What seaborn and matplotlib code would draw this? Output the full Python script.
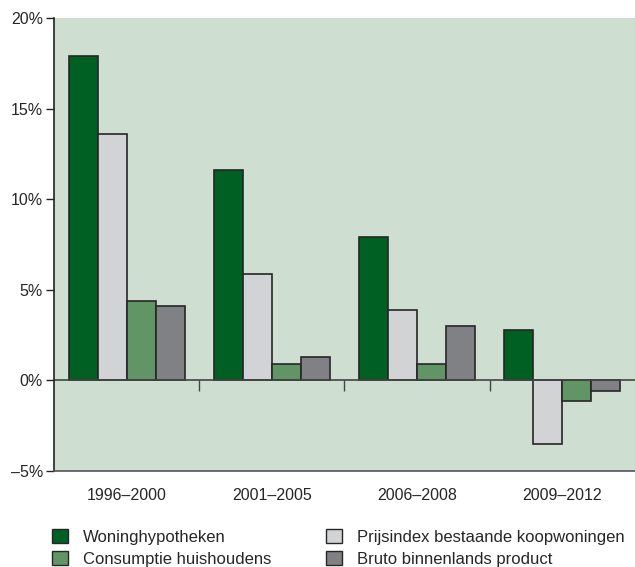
import seaborn as sns
import matplotlib.pyplot as plt
import pandas as pd
from matplotlib.patches import Patch
from matplotlib.ticker import FuncFormatter

# Data
periods = ["1996–2000", "2001–2005", "2006–2008", "2009–2012"]
series = ["Woninghypotheken", "Prijsindex bestaande koopwoningen",
          "Consumptie huishoudens", "Bruto binnenlands product"]
woninghypotheken = [17.9, 11.6, 7.9, 2.8]
prijsindex = [13.6, 5.9, 3.9, -3.5]
consumptie = [4.4, 0.9, 0.9, -1.15]
bbp = [4.1, 1.3, 3.0, -0.6]

colors = {
    "Woninghypotheken": "#006024",
    "Prijsindex bestaande koopwoningen": "#d2d3d5",
    "Consumptie huishoudens": "#629565",
    "Bruto binnenlands product": "#808184",
}

rows = []
for name, vals in zip(series, [woninghypotheken, prijsindex, consumptie, bbp]):
    for p, v in zip(periods, vals):
        rows.append({"periode": p, "reeks": name, "waarde": v})
df = pd.DataFrame(rows)

sns.set_theme(style="white")
plt.rcParams["font.family"] = ["Liberation Sans", "DejaVu Sans"]

fig = plt.figure(figsize=(6.35, 5.67), dpi=100)
ax = fig.add_axes([0.085, 0.1693, 0.915, 0.7987])
ax.set_facecolor("#cedfd1")

sns.barplot(data=df, x="periode", y="waarde", hue="reeks", order=periods,
            hue_order=series, palette=colors, width=0.8, edgecolor="#262626",
            linewidth=1.2, saturation=1, legend=False, ax=ax)

ax.set_xlim(-0.5, 3.5)
ax.set_ylim(-5, 20)
ax.set_yticks([-5, 0, 5, 10, 15, 20])
ax.yaxis.set_major_formatter(FuncFormatter(
    lambda v, _: f"{int(v)}%".replace("-", "\u2013")))
ax.axhline(0, color="#444444", lw=1.2, zorder=1)
# small separators between the groups on the zero line
ax.vlines([0.5, 1.5, 2.5], -0.6, 0, color="#444444", lw=1.0, zorder=1)

for s in ["top", "right"]:
    ax.spines[s].set_visible(False)
ax.spines["left"].set_color("#222222")
ax.spines["left"].set_linewidth(1.2)
ax.spines["bottom"].set_color("#555555")
ax.spines["bottom"].set_linewidth(1.2)

ax.tick_params(axis="y", left=True, length=6, width=1, color="#222222",
               labelsize=11.5, pad=2)
ax.tick_params(axis="x", bottom=False, labelsize=11.5, pad=6)
ax.set_xlabel("")
ax.set_ylabel("")

handles = [Patch(facecolor=colors[s], edgecolor="#262626", linewidth=1.0, label=s)
           for s in ["Woninghypotheken", "Consumptie huishoudens",
                     "Prijsindex bestaande koopwoningen", "Bruto binnenlands product"]]
fig.legend(handles=handles, ncol=2, loc="lower left", bbox_to_anchor=(0.0713, -0.011),
           frameon=False, fontsize=12, handlelength=0.95, handleheight=0.95,
           handletextpad=0.9, columnspacing=3.3, labelspacing=0.35,
           borderaxespad=0)

fig.savefig("out.png", dpi=100)
